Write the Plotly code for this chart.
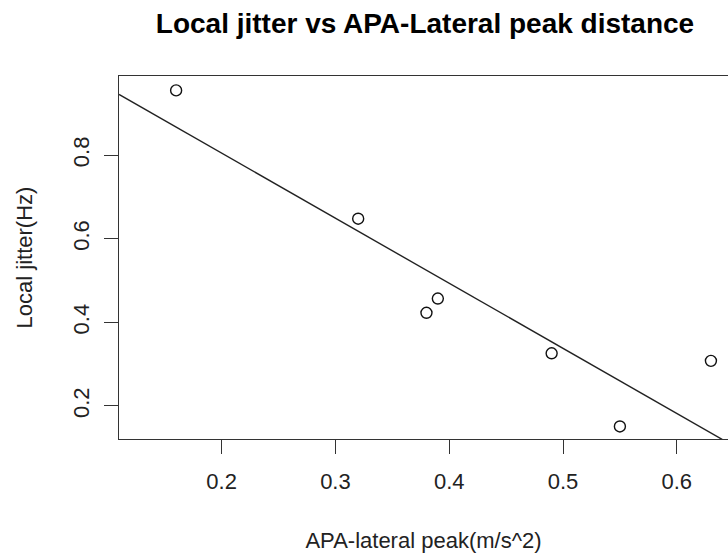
import numpy as np
import plotly.graph_objects as go

apa_lateral_peak = [0.16, 0.32, 0.38, 0.39, 0.49, 0.55, 0.63]
local_jitter = [0.955, 0.648, 0.423, 0.457, 0.326, 0.151, 0.308]
x_ticks = [0.2, 0.3, 0.4, 0.5, 0.6]
y_ticks = [0.2, 0.4, 0.6, 0.8]
x_range = [0.1098, 0.645]
y_range = [0.121, 0.9895]

slope, intercept = np.polyfit(apa_lateral_peak, local_jitter, 1)
line_x = np.array(x_range)
line_y = intercept + slope * line_x

font = "Liberation Sans, Arial, sans-serif"
fig = go.Figure()
fig.add_trace(go.Scatter(x=apa_lateral_peak, y=local_jitter, mode="markers",
                         marker=dict(symbol="circle-open", size=11, color="#111",
                                     line=dict(width=1.4, color="#111")),
                         showlegend=False, hoverinfo="skip"))
fig.add_trace(go.Scatter(x=line_x, y=line_y, mode="lines",
                         line=dict(color="#222", width=1.4),
                         showlegend=False, hoverinfo="skip", cliponaxis=True))

fig.update_layout(
    width=728, height=557,
    margin=dict(l=119, r=0, t=76, b=118),
    plot_bgcolor="white", paper_bgcolor="white",
    title=dict(text="<b>Local jitter vs APA-Lateral peak distance</b>",
               x=(425 / 728), xanchor="center", y=1 - 23 / 557, yanchor="middle",
               font=dict(family=font, size=28, color="black")),
    font=dict(family=font, color="#222"),
    xaxis=dict(range=x_range, tickvals=x_ticks, ticktext=[str(v) for v in x_ticks],
               showgrid=False, zeroline=False, showline=True, mirror=True,
               linecolor="#333", linewidth=1.3, ticks="outside", ticklen=14,
               tickwidth=1.3, tickcolor="#333", tickfont=dict(size=22, color="#222"),
               ticklabelstandoff=8,
               title=dict(text="APA-lateral peak(m/s^2)", font=dict(size=22, color="#222"),
                          standoff=40)),
    yaxis=dict(range=y_range, tickvals=y_ticks, ticktext=[str(v) for v in y_ticks],
               showgrid=False, zeroline=False, showline=True, mirror=False,
               linecolor="#333", linewidth=1.3, ticks="outside", ticklen=14,
               tickwidth=1.3, tickcolor="#333", tickfont=dict(size=22, color="#222"),
               tickangle=-90, ticklabelstandoff=6,
               title=dict(text="Local jitter(Hz)", font=dict(size=22, color="#222"),
                          standoff=30)),
)
fig.write_html("out.html")
